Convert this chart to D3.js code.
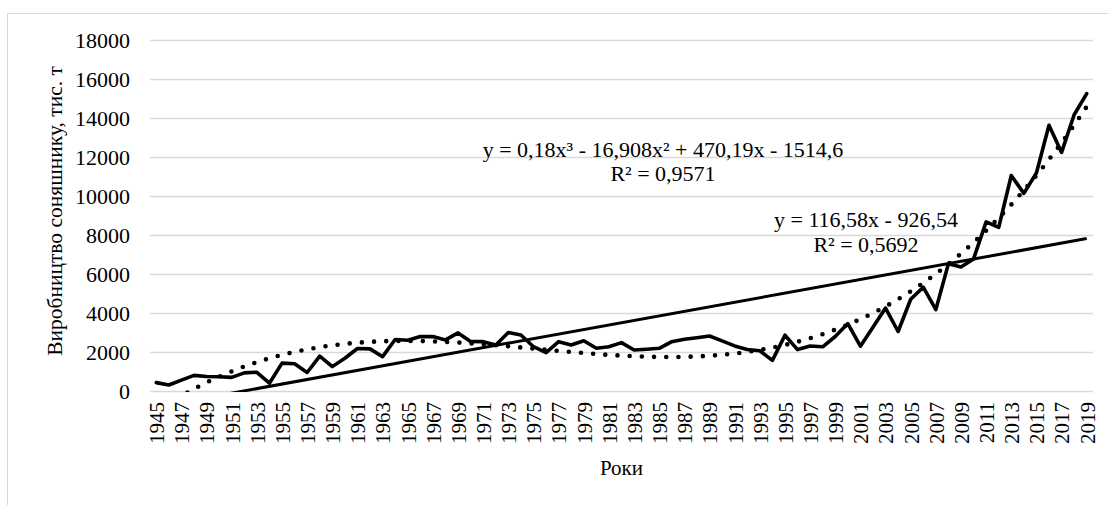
<!DOCTYPE html>
<html><head><meta charset="utf-8">
<script src="https://cdn.jsdelivr.net/npm/d3@7"></script>
<style>
body{margin:0;background:#fff}
text{font-family:"Liberation Serif","Times New Roman",serif;fill:#000}
</style>
</head><body>
<svg id="c" width="1108" height="505"></svg>
<script>
const years = [1945,1946,1947,1948,1949,1950,1951,1952,1953,1954,1955,1956,1957,1958,1959,1960,1961,1962,1963,1964,1965,1966,1967,1968,1969,1970,1971,1972,1973,1974,1975,1976,1977,1978,1979,1980,1981,1982,1983,1984,1985,1986,1987,1988,1989,1990,1991,1992,1993,1994,1995,1996,1997,1998,1999,2000,2001,2002,2003,2004,2005,2006,2007,2008,2009,2010,2011,2012,2013,2014,2015,2016,2017,2018,2019];
const production = [430,310,560,800,740,730,700,930,960,400,1430,1400,950,1790,1250,1680,2180,2160,1760,2640,2600,2790,2790,2620,2980,2540,2530,2360,3000,2870,2270,1970,2530,2360,2580,2190,2270,2480,2100,2140,2190,2530,2650,2730,2820,2571,2311,2127,2065,1569,2860,2123,2308,2266,2794,3457,2297,3271,4254,3050,4706,5324,4174,6526,6364,6772,8671,8387,11051,10134,11181,13627,12236,14165,15254];
const yTicks = [0,2000,4000,6000,8000,10000,12000,14000,16000,18000];
const xTickLabels = years.filter((d,i)=>i%2===0);
const linearCoef = [-926.54, 116.58];            // y = a0 + a1*x
const polyCoef = [-1514.6, 470.19, -16.908, 0.18]; // y = a0 + a1*x + a2*x^2 + a3*x^3
const polyLabel = ["y = 0,18x³ - 16,908x² + 470,19x - 1514,6", "R² = 0,9571"];
const linLabel = ["y = 116,58x - 926,54", "R² = 0,5692"];
const yTitle = "Виробництво соняшнику, тис. т";
const xTitle = "Роки";

const svg = d3.select("#c");
const L = 150, R = 1093, T = 40, B = 391;
const fs = 22;

// chart border
svg.append("rect").attr("x",7.5).attr("y",13.5).attr("width",1200).attr("height",600)
  .attr("fill","none").attr("stroke","#d9d9d9").attr("stroke-width",1);

const x = d3.scalePoint().domain(years).range([L,R]).padding(0.5);
const y = d3.scaleLinear().domain([0,18000]).range([B,T]);
const xi = d3.scaleLinear().domain([1, years.length]).range([x(years[0]), x(years[years.length-1])]);

// gridlines
svg.append("g").selectAll("line").data(yTicks).join("line")
  .attr("x1",L).attr("x2",R).attr("y1",d=>Math.round(y(d))+0.5).attr("y2",d=>Math.round(y(d))+0.5)
  .attr("stroke","#d9d9d9").attr("stroke-width",1.3);

// y axis labels
const ya = svg.append("g").attr("transform",`translate(${L},0)`)
  .call(d3.axisLeft(y).tickValues(yTicks).tickSize(0).tickPadding(20).tickFormat(d=>String(d)));
ya.select(".domain").remove();
ya.selectAll("text").style("font-size",fs+"px").style("font-family","Liberation Serif");

// x axis labels
const xa = svg.append("g").attr("transform",`translate(0,${B})`)
  .call(d3.axisBottom(x).tickValues(xTickLabels).tickSize(0));
xa.select(".domain").remove();
xa.selectAll("text").attr("transform","rotate(-90)").attr("text-anchor","end")
  .attr("x",-11).attr("y",0).attr("dy","0.35em")
  .style("font-size","21px").style("font-family","Liberation Serif");

// clip
svg.append("clipPath").attr("id","pc").append("rect")
  .attr("x",L).attr("y",T-5).attr("width",R-L).attr("height",B-T+6);
const plot = svg.append("g").attr("clip-path","url(#pc)");

const evalPoly = (c,t)=>c.reduce((s,a,k)=>s+a*Math.pow(t,k),0);

// linear trend
plot.append("path")
  .attr("d", d3.line()([[xi(1), y(evalPoly(linearCoef,1))],[xi(years.length), y(evalPoly(linearCoef,years.length))]]))
  .attr("stroke","#000").attr("stroke-width",3).attr("fill","none");

// polynomial trend (dotted)
const ts = d3.range(1, years.length+0.001, 0.25);
plot.append("path")
  .attr("d", d3.line().x(t=>xi(t)).y(t=>y(evalPoly(polyCoef,t))).curve(d3.curveLinear)(ts))
  .attr("stroke","#000").attr("stroke-width",4.6).attr("fill","none")
  .attr("stroke-linecap","round").attr("stroke-dasharray","0 12.2");

// data line
plot.append("path")
  .attr("d", d3.line().x((d,i)=>x(years[i])).y(d=>y(d))(production))
  .attr("stroke","#000").attr("stroke-width",3.6).attr("fill","none")
  .attr("stroke-linejoin","round").attr("stroke-linecap","round");

// equation labels
const lab = (lines, cx, y0, dy) => lines.forEach((s,k)=>svg.append("text")
  .attr("x",cx).attr("y",y0+k*dy).attr("text-anchor","middle").style("font-size",fs+"px").text(s));
lab(polyLabel, 663, 157, 24);
lab(linLabel, 866, 227, 25);

// titles
svg.append("text").attr("transform",`translate(62,211) rotate(-90)`).attr("text-anchor","middle")
  .style("font-size","21.5px").text(yTitle);
svg.append("text").attr("x",(L+R)/2).attr("y",475).attr("text-anchor","middle")
  .style("font-size","21px").text(xTitle);
</script>
</body></html>
